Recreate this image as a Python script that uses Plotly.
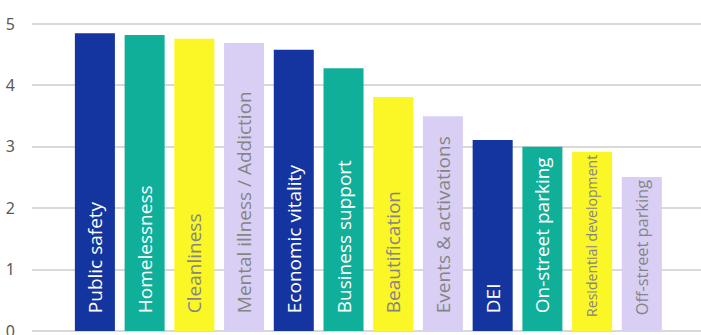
import plotly.graph_objects as go

categories = ["Public safety", "Homelessness", "Cleanliness", "Mental illness / Addiction",
              "Economic vitality", "Business support", "Beautification", "Events & activations",
              "DEI", "On-street parking", "Residential development", "Off-street parking"]
values = [4.85, 4.82, 4.76, 4.69, 4.58, 4.28, 3.81, 3.50, 3.11, 3.00, 2.92, 2.51]
tick_vals = [0, 1, 2, 3, 4, 5]

NAVY, TEAL, YELLOW, LAV = "#14359F", "#10AF9A", "#FBF626", "#D9CFF5"
palette = [NAVY, TEAL, YELLOW, LAV]
colors = [palette[i % 4] for i in range(len(categories))]
text_colors = ["#FFFFFF" if c in (NAVY, TEAL) else "#858585" for c in colors]
text_sizes = [14.5 if c == "Residential development" else 19 for c in categories]
labels = ["\u00a0\u00a0\u00a0" + c for c in categories]

fig = go.Figure(go.Bar(
    x=list(range(len(categories))),
    y=values,
    marker=dict(color=colors, line=dict(width=0)),
    text=labels,
    textposition="inside",
    insidetextanchor="start",
    textangle=-90,
    textfont=dict(family="Open Sans", color=text_colors, size=text_sizes),
    cliponaxis=False,
    hoverinfo="skip",
))

fig.update_layout(
    width=701, height=335,
    margin=dict(l=32, r=0, t=21, b=4, autoexpand=False),
    paper_bgcolor="white", plot_bgcolor="white",
    bargap=0.195,
    showlegend=False,
    xaxis=dict(range=[-1.265, 12.19], showticklabels=False, showgrid=False,
               zeroline=False, showline=False, ticks="", automargin=False),
    yaxis=dict(range=[0, 5.05], tickvals=tick_vals, showgrid=True,
               gridcolor="#D9D9D9", gridwidth=1.5, zeroline=True,
               zerolinecolor="#D9D9D9", zerolinewidth=2, showline=False,
               ticks="", ticklabelstandoff=16, ticklabeloverflow="allow",
               automargin=False,
               tickfont=dict(family="Noto Sans", size=16, color="#595959")),
)

fig.write_html("out.html", config={"displayModeBar": False},
               post_script="document.body.style.margin='0';document.body.style.overflow='hidden';")
